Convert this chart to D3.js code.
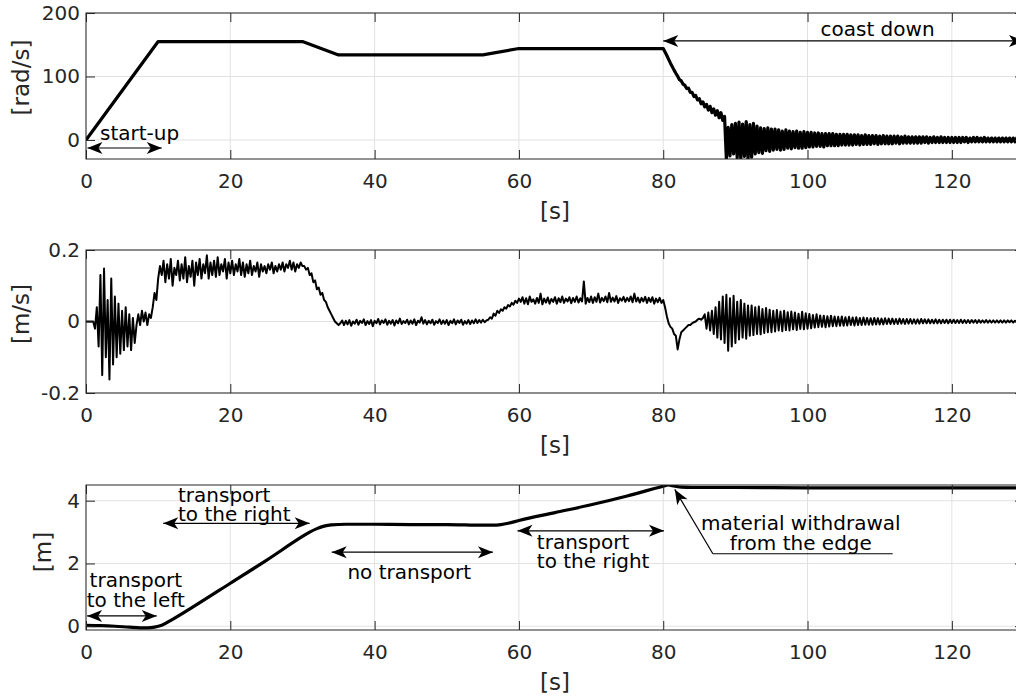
<!DOCTYPE html>
<html>
<head>
<meta charset="utf-8">
<script src="https://cdn.jsdelivr.net/npm/d3@7"></script>
<style>
  body { margin: 0; background: #fff; }
  svg { display: block; }
  text { font-family: "DejaVu Sans", Verdana, sans-serif; }
</style>
</head>
<body>
<svg id="fig" width="1016" height="699"></svg>
<script>
// ---------- tick values ----------
const timeTicks  = [0, 20, 40, 60, 80, 100, 120];
const speedTicks = [0, 100, 200];
const velTicks   = [-0.2, 0, 0.2];
const posTicks   = [0, 2, 4];

// sampling interval of the uniformly sampled records [s]
const STEP = 0.25;

// ---------- drum speed [rad/s] ----------
// start-up, speed changes and the hold before switching off
const speedT = [0, 10, 30, 35, 55, 60, 80];
const speedV = [0, 155, 155, 134, 134, 144, 144];
// coast down (first part, sampled from 80.25 s)
const speedDecayStart = 80.25;
const speedDecay = [138.5, 133, 127, 121, 115.5, 110, 105, 100.5, 95, 93,
  88, 86, 81, 81.5, 75, 75, 68.5, 70, 63, 65,
  57, 60, 52, 56, 47, 53, 43, 49, 39, 46,
  35, 43, 31, 37];
// oscillating run-out (sampled from 88.75 s)
const speedCoastStart = 88.75;
const speedCoast = [-30, 20, -25, 24, -22, 26,
  -28, 28, -30, 25, -26, 29, -31, 24, -27, 26,
  -22, 22, -20, 19, -21, 18, -17, 19, -18, 17,
  -16, 17, -15, 16, -16, 14, -15, 16, -13, 14, -14, 13, -12, 14, -13, 12, -13, 13, -12, 12,
  -11, 12, -11, 11, -10, 11, -10, 10, -11, 10, -9, 10, -9, 10, -9, 9, -9, 9, -8, 9,
  -8, 9, -8, 8, -8, 8, -7, 8, -8, 7, -7, 8, -7, 7, -7, 7, -6, 7, -7, 6,
  -6, 7, -6, 6, -6, 6, -6, 6, -5, 6, -6, 5, -5, 6, -5, 5, -5, 5, -5, 5,
  -5, 5, -5, 5, -4, 5, -5, 4, -4, 5, -4, 4, -4, 5, -4, 4, -4, 4, -4, 4,
  -4, 4, -4, 4, -4, 4, -3, 4, -4, 3, -3, 4, -3, 4, -3, 3, -3, 4, -3, 3,
  -3, 3, -3, 3, -3, 3, -3, 3, -3, 3, -3, 3, -3, 3, -3, 3, -3, 3, -3, 3];

// ---------- material velocity [m/s], sampled records ----------
const velStarts = [0, 10.5, 30.25, 35.25, 55.75, 60.25, 80.25, 85.75];
const velStartup = [0, 0, 0, 0, 0,
  -0.02, 0.04, -0.07, 0.13, -0.15, 0.148, -0.10, 0.06, -0.162, 0.12, -0.12,
  0.07, -0.10, 0.05, -0.09, 0.03, -0.08, 0.04, -0.07, 0.02, -0.08, 0.01, -0.06, -0.01,
  0.02, -0.01, 0.03, 0.0, 0.025, -0.01, 0.02, 0.01,
  0.04, 0.08, 0.06, 0.12, 0.155];
const velRun1 = [0.13, 0.17, 0.11, 0.16, 0.12, 0.175, 0.10, 0.15, 0.13, 0.17,
  0.115, 0.16, 0.12, 0.18, 0.11, 0.155, 0.125, 0.17, 0.10, 0.165,
  0.13, 0.175, 0.12, 0.16, 0.135, 0.185, 0.12, 0.165, 0.13, 0.17,
  0.125, 0.18, 0.13, 0.16, 0.14, 0.175, 0.12, 0.165, 0.135, 0.17,
  0.13, 0.16, 0.14, 0.175, 0.13, 0.165, 0.125, 0.16, 0.135, 0.17,
  0.13, 0.155, 0.14, 0.165, 0.125, 0.16, 0.14, 0.155, 0.135, 0.16,
  0.145, 0.165, 0.135, 0.155, 0.14, 0.16, 0.145, 0.165, 0.14, 0.16,
  0.15, 0.17, 0.145, 0.165, 0.14, 0.16, 0.15, 0.165, 0.155];
const velDecel = [0.155, 0.145, 0.15, 0.13, 0.135, 0.11, 0.115, 0.09, 0.095, 0.075,
  0.08, 0.06, 0.055, 0.04, 0.03, 0.02, 0.01, 0.0, -0.005, -0.01];
const velIdle = [-0.005, 0.003, -0.01, 0.002, -0.008, 0.004, -0.012, 0.0, -0.006, 0.005,
  -0.009, 0.002, -0.004, 0.006, -0.01, 0.001, -0.007, 0.004, -0.013, 0.002,
  -0.005, 0.007, -0.008, 0.003, -0.004, 0.006, -0.009, 0.002, -0.006, 0.004,
  -0.011, 0.003, -0.005, 0.008, -0.007, 0.001, -0.004, 0.005, -0.008, 0.003,
  -0.006, 0.006, -0.01, 0.002, -0.003, 0.012, -0.006, 0.004, -0.008, 0.002,
  -0.005, 0.005, -0.009, 0.001, -0.004, 0.006, -0.007, 0.003, -0.006, 0.004,
  -0.01, 0.002, -0.005, 0.006, -0.008, 0.003, -0.004, 0.005, -0.009, 0.001,
  -0.006, 0.004, -0.007, 0.003, -0.005, 0.006, -0.004, 0.004, -0.003, 0.005, -0.002, 0.003];
const velAccel = [0.005, 0.012, 0.008, 0.022, 0.016, 0.03, 0.024, 0.034, 0.03, 0.04,
  0.036, 0.046, 0.042, 0.052, 0.047, 0.058, 0.052, 0.064];
const velRun2 = [0.055, 0.068, 0.05, 0.065, 0.048, 0.07, 0.055, 0.062, 0.05, 0.066,
  0.052, 0.078, 0.048, 0.064, 0.053, 0.067, 0.05, 0.063, 0.055, 0.068,
  0.05, 0.065, 0.054, 0.07, 0.052, 0.064, 0.056, 0.068, 0.051, 0.066,
  0.055, 0.07, 0.053, 0.065, 0.056, 0.112, 0.05, 0.066, 0.054, 0.07,
  0.052, 0.068, 0.055, 0.078, 0.053, 0.066, 0.057, 0.07, 0.054, 0.08,
  0.055, 0.067, 0.056, 0.071, 0.052, 0.065, 0.058, 0.069, 0.055, 0.066,
  0.057, 0.07, 0.054, 0.078, 0.056, 0.067, 0.053, 0.066, 0.056, 0.069,
  0.052, 0.066, 0.055, 0.068, 0.05, 0.064, 0.054, 0.066, 0.052, 0.06];
const velBrake = [0.04, 0.015, -0.005, -0.015, -0.02, -0.035, -0.04, -0.078, -0.05, -0.03,
  -0.025, -0.02, -0.015, -0.01, -0.01, -0.005, -0.002, 0.0, 0.005, 0.008, 0.005, 0.01];
const velCoast = [0.02, -0.02, 0.025, -0.025, 0.03, -0.035,
  0.04, -0.045, 0.055, -0.05,
  0.07, -0.06, 0.075, -0.082, 0.065, -0.07, 0.072, -0.06,
  0.055, -0.05, 0.06, -0.045, 0.05, -0.048, 0.045, -0.04,
  0.045, -0.038, 0.04, -0.035, 0.042, -0.036, 0.035, -0.032, 0.038, -0.03, 0.033, -0.03,
  0.03, -0.028, 0.032, -0.025, 0.028, -0.027, 0.03, -0.024, 0.026, -0.025, 0.028, -0.022, 0.025, -0.024, 0.022, -0.021, 0.027, -0.022, 0.023, -0.02,
  0.021, -0.019, 0.018, -0.017, 0.02, -0.016, 0.017, -0.015, 0.016, -0.016, 0.015, -0.014, 0.016, -0.013, 0.014, -0.013, 0.013, -0.012, 0.014, -0.012,
  0.012, -0.011, 0.013, -0.01, 0.011, -0.011, 0.012, -0.01, 0.01, -0.01, 0.011, -0.009, 0.01, -0.009, 0.009, -0.009, 0.01, -0.008, 0.009, -0.008,
  0.008, -0.008, 0.009, -0.007, 0.008, -0.007, 0.008, -0.007, 0.007, -0.007, 0.008, -0.006, 0.007, -0.007, 0.007, -0.006, 0.007, -0.006, 0.006, -0.006,
  0.006, -0.006, 0.007, -0.005, 0.006, -0.005, 0.006, -0.005, 0.005, -0.005, 0.006, -0.005, 0.005, -0.005, 0.005, -0.004, 0.005, -0.005, 0.005, -0.004,
  0.005, -0.004, 0.004, -0.004, 0.005, -0.004, 0.004, -0.004, 0.004, -0.004, 0.004, -0.003, 0.004, -0.004, 0.004, -0.003, 0.003, -0.003, 0.004, -0.003,
  0.003, -0.003, 0.003, -0.003, 0.003, -0.003, 0.003, -0.003, 0.003, -0.003, 0.003, -0.002, 0.003, -0.003, 0.002, -0.002, 0.003, -0.002, 0.002, -0.002];

// ---------- material position [m] ----------
const posT = [0, 2, 4, 6, 7.5, 8.5, 9.5, 10.5, 12, 15, 20, 25, 30, 31, 32, 33, 34, 36, 40, 45,
  50, 55, 56.5, 57.5, 58.5, 60, 65, 70, 75, 80, 80.7, 81.5, 82.5, 84, 90, 100, 110, 120, 130];
const posV = [0.03, 0.02, 0.0, -0.03, -0.05, -0.05, -0.03, 0.03, 0.22, 0.64, 1.37, 2.1, 2.86, 3.0, 3.11, 3.19, 3.23, 3.25, 3.25, 3.24,
  3.24, 3.22, 3.22, 3.24, 3.28, 3.37, 3.62, 3.87, 4.15, 4.46, 4.5, 4.47, 4.43, 4.42, 4.42, 4.41, 4.41, 4.41, 4.41];

// ---------- build [t, value] series ----------
const sampled = (t0, vals) => vals.map((v, i) => [t0 + i * STEP, v]);

const speedSeries = speedT.map((t, i) => [t, speedV[i]])
  .concat(sampled(speedDecayStart, speedDecay), sampled(speedCoastStart, speedCoast));
const velSeries = [velStartup, velRun1, velDecel, velIdle, velAccel, velRun2, velBrake, velCoast]
  .flatMap((vals, k) => sampled(velStarts[k], vals));
const posSeries = posT.map((t, i) => [t, posV[i]]);

// ---------- layout ----------
const svg = d3.select("#fig");
const INK = "#262626";
const x = d3.scaleLinear().domain([0, 130]).range([86, 1024]);

const panels = [
  { id: "speed", top: 13,  bottom: 159, domain: [-30, 200],   ticks: speedTicks, fmt: d => String(d),
    label: "[rad/s]", lx: 29, ly: 77.5, data: speedSeries, width: 3.2, curve: d3.curveLinear },
  { id: "vel",   top: 250, bottom: 393, domain: [-0.2, 0.2],  ticks: velTicks,   fmt: d => String(d),
    label: "[m/s]",   lx: 29, ly: 314,  data: velSeries,   width: 2,   curve: d3.curveLinear },
  { id: "pos",   top: 485, bottom: 630, domain: [-0.12, 4.5], ticks: posTicks,   fmt: d => String(d),
    label: "[m]",     lx: 51, ly: 552,  data: posSeries,   width: 3.2, curve: d3.curveMonotoneX }
];

const defs = svg.append("defs");

panels.forEach(p => {
  const y = d3.scaleLinear().domain(p.domain).range([p.bottom, p.top]);
  p.y = y;
  const g = svg.append("g").attr("class", "panel-" + p.id);

  // grid
  const grid = g.append("g").attr("stroke", "#e2e2e2").attr("stroke-width", 1);
  grid.selectAll("line.gx").data(timeTicks).join("line").attr("class", "gx")
    .attr("x1", d => x(d)).attr("x2", d => x(d)).attr("y1", p.top).attr("y2", p.bottom);
  grid.selectAll("line.gy").data(p.ticks).join("line").attr("class", "gy")
    .attr("x1", x.range()[0]).attr("x2", x.range()[1]).attr("y1", d => y(d)).attr("y2", d => y(d));

  // data
  defs.append("clipPath").attr("id", "clip-" + p.id).append("rect")
    .attr("x", x.range()[0]).attr("y", p.top)
    .attr("width", x.range()[1] - x.range()[0]).attr("height", p.bottom - p.top);
  const line = d3.line().x(d => x(d[0])).y(d => y(d[1])).curve(p.curve);
  g.append("path").datum(p.data)
    .attr("clip-path", `url(#clip-${p.id})`)
    .attr("d", line).attr("fill", "none").attr("stroke", "#000")
    .attr("stroke-width", p.width).attr("stroke-linejoin", "round");

  // axes with inward ticks on all four sides
  const ax = g.append("g").attr("class", "axes");
  ax.append("g").attr("transform", `translate(0,${p.bottom})`)
    .call(d3.axisBottom(x).tickValues(timeTicks).tickSizeInner(-9).tickSizeOuter(0).tickPadding(15));
  ax.append("g").attr("transform", `translate(0,${p.top})`)
    .call(d3.axisTop(x).tickValues(timeTicks).tickSizeInner(-9).tickSizeOuter(0).tickFormat(""));
  ax.append("g").attr("transform", `translate(${x.range()[0]},0)`)
    .call(d3.axisLeft(y).tickValues(p.ticks).tickSizeInner(-9).tickSizeOuter(0).tickPadding(6).tickFormat(p.fmt));
  ax.append("g").attr("transform", `translate(${x.range()[1]},0)`)
    .call(d3.axisRight(y).tickValues(p.ticks).tickSizeInner(-9).tickSizeOuter(0).tickFormat(""));
  ax.selectAll(".domain").remove();
  ax.selectAll(".tick line").attr("stroke", INK);
  ax.selectAll(".tick text").attr("fill", INK).attr("font-size", 20)
    .attr("font-family", '"DejaVu Sans", Verdana, sans-serif');

  // box
  g.append("rect").attr("x", x.range()[0]).attr("y", p.top)
    .attr("width", x.range()[1] - x.range()[0]).attr("height", p.bottom - p.top)
    .attr("fill", "none").attr("stroke", INK).attr("stroke-width", 1);

  // axis labels
  g.append("text").attr("x", (x.range()[0] + x.range()[1]) / 2).attr("y", p.bottom + 60)
    .attr("text-anchor", "middle").attr("font-size", 23).attr("fill", INK).text("[s]");
  g.append("text").attr("transform", `translate(${p.lx},${p.ly}) rotate(-90)`)
    .attr("text-anchor", "middle").attr("font-size", 23).attr("fill", INK).text(p.label);
});

// ---------- annotations ----------
const ann = svg.append("g").attr("class", "annotations");
const LINE_GAP = 19.5; // px between baselines of a two-line note

function head(tx, ty, fx, fy) {
  const a = Math.atan2(ty - fy, tx - fx) * 180 / Math.PI;
  ann.append("path").attr("d", "M0,0L-15,-6L-11,0L-15,6Z")
    .attr("transform", `translate(${tx},${ty}) rotate(${a})`).attr("fill", "#000");
}
function arrow(p, t1, v1, t2, v2, both) {
  const x1 = x(t1), y1 = p.y(v1), x2 = x(t2), y2 = p.y(v2);
  ann.append("line").attr("x1", x1).attr("y1", y1).attr("x2", x2).attr("y2", y2)
    .attr("stroke", "#000").attr("stroke-width", 1.2);
  head(x2, y2, x1, y1);
  if (both) head(x1, y1, x2, y2);
}
// a (possibly multi-line) note; (t, v) is the first line's baseline anchor
function note(p, t, v, lines, anchor) {
  const txt = ann.append("text").attr("x", x(t)).attr("y", p.y(v))
    .attr("text-anchor", anchor || "start").attr("font-size", 20).attr("fill", "#000");
  lines.forEach((s, i) => {
    txt.append("tspan").attr("x", x(t)).attr("dy", i === 0 ? 0 : LINE_GAP).text(s);
  });
}

const [pSpeed, , pPos] = panels;

// speed panel
arrow(pSpeed, 0.2, -12.7, 10.5, -12.7, true);
note(pSpeed, 1.94, 0, ["start-up"]);
arrow(pSpeed, 80, 156, 130, 156, true);
note(pSpeed, 109.7, 163.8, ["coast down"], "middle");

// position panel
arrow(pPos, 0.15, 0.33, 9.8, 0.33, true);
note(pPos, 6.9, 1.24, ["transport", "to the left"], "middle");

arrow(pPos, 10.7, 3.28, 31.0, 3.28, true);
note(pPos, 12.75, 3.96, ["transport", "to the right"]);

arrow(pPos, 34.05, 2.36, 56.4, 2.36, true);
note(pPos, 44.8, 1.51, ["no transport"], "middle");

arrow(pPos, 59.8, 3.04, 80.1, 3.04, true);
note(pPos, 62.48, 2.47, ["transport", "to the right"]);

arrow(pPos, 86.88, 2.31, 81.6, 4.36, false);
ann.append("line").attr("x1", x(86.88)).attr("x2", x(111.8))
  .attr("y1", pPos.y(2.31)).attr("y2", pPos.y(2.31)).attr("stroke", "#000").attr("stroke-width", 1.2);
note(pPos, 99.07, 3.06, ["material withdrawal", "from the edge"], "middle");
</script>
</body>
</html>
